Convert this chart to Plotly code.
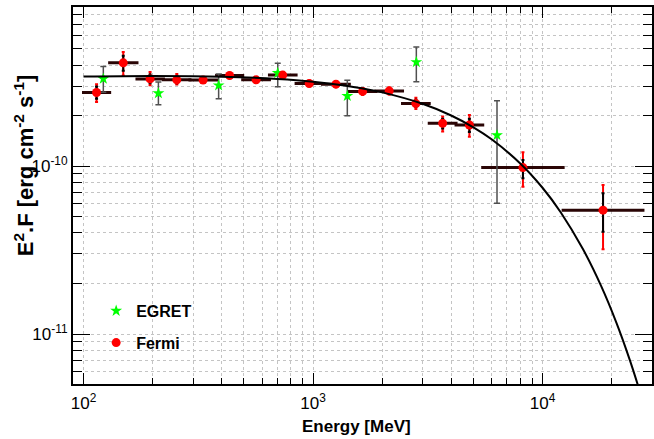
import math
import plotly.graph_objects as go

# ---------------- data ----------------
fermi_e_min = [100, 130, 171, 223, 291, 380, 494, 646, 844, 1100, 1440, 1880, 2455, 3210, 4200, 5490, 12300]
fermi_e_max = [130, 171, 223, 291, 380, 494, 646, 844, 1100, 1440, 1880, 2455, 3210, 4200, 5490, 12300, 27400]
fermi_e = [114, 149, 195, 255, 332, 433, 565, 738, 963, 1259, 1645, 2148, 2807, 3672, 4802, 8218, 18358]
fermi_flux = [2.75e-10, 4.13e-10, 3.31e-10, 3.27e-10, 3.26e-10, 3.47e-10, 3.27e-10, 3.49e-10, 3.11e-10,
              3.08e-10, 2.79e-10, 2.81e-10, 2.36e-10, 1.80e-10, 1.76e-10, 9.81e-11, 5.47e-11]
fermi_tot_hi = [3.08e-10, 4.79e-10, 3.64e-10, 3.54e-10, 3.40e-10, 3.60e-10, 3.40e-10, 3.63e-10, 3.24e-10,
                3.21e-10, 2.92e-10, 2.95e-10, 2.56e-10, 1.98e-10, 2.02e-10, 1.21e-10, 7.73e-11]
fermi_tot_lo = [2.41e-10, 3.47e-10, 3.04e-10, 3.07e-10, 3.13e-10, 3.34e-10, 3.14e-10, 3.35e-10, 2.98e-10,
                2.95e-10, 2.66e-10, 2.67e-10, 2.19e-10, 1.61e-10, 1.50e-10, 7.55e-11, 3.20e-11]
fermi_stat_hi = [2.98e-10, 4.55e-10, 3.52e-10, 3.44e-10, 3.34e-10, 3.55e-10, 3.35e-10, 3.57e-10, 3.19e-10,
                 3.16e-10, 2.87e-10, 2.89e-10, 2.49e-10, 1.92e-10, 1.92e-10, 1.09e-10, 6.90e-11]
fermi_stat_lo = [2.52e-10, 3.70e-10, 3.12e-10, 3.12e-10, 3.18e-10, 3.39e-10, 3.19e-10, 3.41e-10, 3.03e-10,
                 3.00e-10, 2.71e-10, 2.73e-10, 2.25e-10, 1.68e-10, 1.60e-10, 8.48e-11, 4.07e-11]

egret_e = [122, 212, 388, 702, 1411, 2820, 6335]
egret_flux = [3.32e-10, 2.72e-10, 3.03e-10, 3.59e-10, 2.62e-10, 4.17e-10, 1.53e-10]
egret_hi = [3.93e-10, 3.17e-10, 3.54e-10, 4.11e-10, 3.25e-10, 5.13e-10, 2.45e-10]
egret_lo = [2.76e-10, 2.32e-10, 2.52e-10, 2.97e-10, 2.00e-10, 3.19e-10, 6.01e-11]

model_e = [100, 200, 400, 700, 1000, 1500, 2000, 3000, 4000, 5000, 6000, 8000, 10000,
           12000, 15000, 18000, 21000, 24000, 27000]
model_f = [3.42e-10, 3.445e-10, 3.414e-10, 3.309e-10, 3.184e-10, 2.967e-10, 2.752e-10, 2.354e-10,
           2.005e-10, 1.704e-10, 1.446e-10, 1.038e-10, 7.44e-11, 5.32e-11, 3.21e-11, 1.937e-11,
           1.167e-11, 7.02e-12, 4.23e-12]

x_major = [100, 1000, 10000]
x_major_text = ["10<sup>2</sup>", "10<sup>3</sup>", "10<sup>4</sup>"]
y_major = [1e-11, 1e-10]
y_major_text = ["10<sup>-11</sup>", "10<sup>-10</sup>"]
x_minor = [m * 10 ** p for p in (1, 2, 3, 4) for m in range(2, 10)]
y_minor = [m * 10.0 ** p for p in (-12, -11, -10) for m in range(2, 10)]

# ---------------- figure ----------------
FONT = "Liberation Sans, Arial, Helvetica, sans-serif"
fig = go.Figure()

# Fermi horizontal (energy bin) bars
fig.add_trace(go.Scatter(
    x=fermi_e, y=fermi_flux, mode="markers", marker=dict(size=1, color="rgba(0,0,0,0)"),
    error_x=dict(type="data", symmetric=False,
                 array=[h - c for h, c in zip(fermi_e_max, fermi_e)],
                 arrayminus=[c - l for c, l in zip(fermi_e, fermi_e_min)],
                 color="#2a0505", thickness=3, width=1.5),
    showlegend=False, hoverinfo="skip"))
# Fermi total errors (red)
fig.add_trace(go.Scatter(
    x=fermi_e, y=fermi_flux, mode="markers", marker=dict(size=1, color="rgba(0,0,0,0)"),
    error_y=dict(type="data", symmetric=False,
                 array=[h - f for h, f in zip(fermi_tot_hi, fermi_flux)],
                 arrayminus=[f - l for f, l in zip(fermi_flux, fermi_tot_lo)],
                 color="#ff0000", thickness=2, width=1.5),
    showlegend=False, hoverinfo="skip"))
# Fermi statistical errors (black)
fig.add_trace(go.Scatter(
    x=fermi_e, y=fermi_flux, mode="markers", marker=dict(size=1, color="rgba(0,0,0,0)"),
    error_y=dict(type="data", symmetric=False,
                 array=[h - f for h, f in zip(fermi_stat_hi, fermi_flux)],
                 arrayminus=[f - l for f, l in zip(fermi_flux, fermi_stat_lo)],
                 color="#000000", thickness=2, width=1.5),
    showlegend=False, hoverinfo="skip"))
# EGRET errors
fig.add_trace(go.Scatter(
    x=egret_e, y=egret_flux, mode="markers", marker=dict(size=1, color="rgba(0,0,0,0)"),
    error_y=dict(type="data", symmetric=False,
                 array=[h - f for h, f in zip(egret_hi, egret_flux)],
                 arrayminus=[f - l for f, l in zip(egret_flux, egret_lo)],
                 color="#505050", thickness=1.5, width=3),
    showlegend=False, hoverinfo="skip"))

# markers
fig.add_trace(go.Scatter(
    x=egret_e, y=egret_flux, mode="markers", name="EGRET", legendgroup="a",
    marker=dict(symbol="star", size=9, color="#00ff00", line=dict(width=0))))
fig.add_trace(go.Scatter(
    x=fermi_e, y=fermi_flux, mode="markers", name="Fermi", legendgroup="b",
    marker=dict(symbol="circle", size=9, color="#ff0000", line=dict(width=0))))

# model curve
fig.add_trace(go.Scatter(
    x=model_e, y=model_f, mode="lines", line=dict(color="black", width=2, shape="spline"),
    showlegend=False, hoverinfo="skip"))

grid = dict(showgrid=True, gridcolor="#c4c4c4", gridwidth=1, griddash="dot")

fig.update_layout(
    width=654, height=439,
    margin=dict(l=73, r=0, t=7, b=55),
    paper_bgcolor="white", plot_bgcolor="white",
    font=dict(family=FONT, color="black"),
    showlegend=True,
    legend=dict(x=0.040, y=0.239, xanchor="left", yanchor="top",
                font=dict(family=FONT, size=16, weight="bold"),
                bgcolor="rgba(255,255,255,0)", borderwidth=0,
                traceorder="grouped", tracegroupgap=8),
    xaxis=dict(type="log", range=[math.log10(90), math.log10(30000)],
               tickmode="array", tickvals=x_major, ticktext=x_major_text,
               ticks="inside", ticklen=11, tickwidth=1, tickcolor="black",
               tickfont=dict(family=FONT, size=17), ticklabelstandoff=3,
               showline=True, linecolor="black", linewidth=2, mirror="allticks",
               minor=dict(tickmode="array", tickvals=x_minor, ticks="inside", ticklen=6,
                          tickcolor="black", tickwidth=1, **grid),
               zeroline=False, **grid),
    yaxis=dict(type="log", range=[math.log10(5.04e-12), math.log10(8.88e-10)],
               tickmode="array", tickvals=y_major, ticktext=y_major_text,
               ticks="inside", ticklen=17, tickwidth=1, tickcolor="black",
               tickfont=dict(family=FONT, size=17),
               showline=True, linecolor="black", linewidth=2, mirror="allticks",
               minor=dict(tickmode="array", tickvals=y_minor, ticks="inside", ticklen=9,
                          tickcolor="black", tickwidth=1, **grid),
               zeroline=False, **grid),
    annotations=[
        dict(text="<b>Energy [MeV]</b>", xref="paper", yref="paper",
             x=(357.5 - 73) / 581, y=-(426 - 384) / 377, xanchor="center", yanchor="middle",
             showarrow=False, font=dict(family=FONT, size=17)),
        dict(text="<b>E<sup>2</sup>.F [erg cm<sup>-2</sup> s<sup>-1</sup>]</b>", xref="paper", yref="paper",
             x=-(73 - 24) / 581, y=1 - (166 - 7) / 377, xanchor="center", yanchor="middle",
             textangle=-90, showarrow=False, font=dict(family=FONT, size=22)),
    ],
)

fig.write_html("out.html", post_script="document.body.style.margin='0';",
               config={"displayModeBar": False})
